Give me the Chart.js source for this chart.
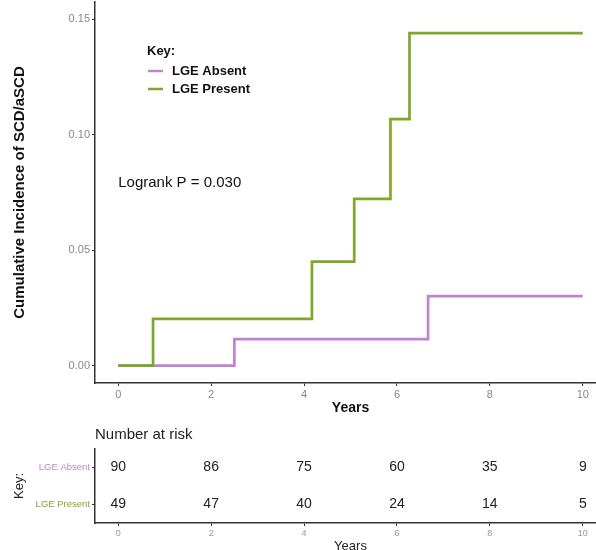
<!DOCTYPE html>
<html>
<head>
<meta charset="utf-8">
<script src="https://cdn.jsdelivr.net/npm/chart.js@4.4.0/dist/chart.umd.min.js"></script>
<style>
    html, body { margin: 0; padding: 0; background: #fff; overflow: hidden; }
    body { width: 596px; height: 550px; position: relative; }
    #mainBox { position: absolute; left: 0; top: 0; width: 610px; height: 420px; }
    #riskBox { position: absolute; left: 0; top: 420px; width: 610px; height: 140px; }
</style>
</head>
<body>
<div id="mainBox"><canvas id="mainChart"></canvas></div>
<div id="riskBox"><canvas id="riskChart"></canvas></div>
<script>
// step points (time in years, cumulative incidence)
const absentTimes = [0, 2.50, 6.67, 10]
const absentValues = [0, 0.0115, 0.0301, 0.0301]
const presentTimes = [0, 0.75, 4.17, 5.08, 5.86, 6.27, 10]
const presentValues = [0, 0.0203, 0.0451, 0.0722, 0.1068, 0.1440, 0.1440]

const groups = ['LGE Absent', 'LGE Present']
const groupColors = ['#c084cf', '#7ea82a']

const xTicks = [0, 2, 4, 6, 8, 10]
const yTicks = [0, 0.05, 0.10, 0.15]

// number at risk
const riskYears = [0, 2, 4, 6, 8, 10]
const riskAbsent = [90, 86, 75, 60, 35, 9]
const riskPresent = [49, 47, 40, 24, 14, 5]

const FONT = "'Liberation Sans', Arial, Helvetica, sans-serif"

function toPoints(xs, ys) {
    return xs.map((x, i) => ({ x: x, y: ys[i] }))
}

// legend and logrank text inside the plot
const keyPlugin = {
    id: 'keyPlugin',
    afterDraw(chart) {
        const ctx = chart.ctx
        const a = chart.chartArea
        ctx.save()
        ctx.textBaseline = 'middle'
        ctx.fillStyle = '#111'
        ctx.font = 'bold 13px ' + FONT
        ctx.fillText('Key:', a.left + 52, 51)
        chart.data.datasets.slice().sort((p, q) => groups.indexOf(p.label) - groups.indexOf(q.label)).forEach((ds, i) => {
            const y = 71 + i * 18
            ctx.strokeStyle = ds.borderColor
            ctx.lineWidth = 2.5
            ctx.beginPath()
            ctx.moveTo(a.left + 53, y)
            ctx.lineTo(a.left + 68, y)
            ctx.stroke()
            ctx.fillStyle = '#111'
            ctx.fillText(ds.label, a.left + 77, y)
        })
        ctx.font = '15px ' + FONT
        ctx.fillText('Logrank P = 0.030', chart.scales.x.getPixelForValue(0), 183)
        ctx.restore()
    }
}

const mainCtx = document.getElementById('mainChart').getContext('2d')
const mainChart = new Chart(mainCtx, {
    type: 'line',
    data: {
        datasets: [{
            label: groups[0],
            data: toPoints(absentTimes, absentValues),
            borderColor: groupColors[0],
            borderWidth: 2.7,
            stepped: true,
            pointRadius: 0,
            fill: false,
            order: 2
        }, {
            label: groups[1],
            data: toPoints(presentTimes, presentValues),
            borderColor: groupColors[1],
            borderWidth: 2.7,
            stepped: true,
            pointRadius: 0,
            fill: false,
            order: 1
        }]
    },
    options: {
        responsive: true,
        maintainAspectRatio: false,
        animation: false,
        layout: { padding: { top: 2, right: 4, left: 0, bottom: 0 } },
        scales: {
            x: {
                type: 'linear',
                min: -0.5,
                max: 10.5,
                afterBuildTicks: s => { s.ticks = xTicks.map(v => ({ value: v })) },
                afterFit: s => { s.height = 37 },
                grid: { drawOnChartArea: false, drawTicks: true, tickLength: 3, color: '#333' },
                border: { display: true, color: '#333', width: 1.5 },
                ticks: { color: '#888', font: { family: FONT, size: 11 }, padding: 2 },
                title: {
                    display: true,
                    text: 'Years',
                    color: '#111',
                    font: { family: FONT, size: 14, weight: 'bold' },
                    padding: { top: 0, bottom: 3 }
                }
            },
            y: {
                type: 'linear',
                min: -0.0075,
                max: 0.1575,
                afterBuildTicks: s => { s.ticks = yTicks.map(v => ({ value: v })) },
                afterFit: s => { s.width = 95; s.paddingTop = 0; s.paddingBottom = 0 },
                grid: { drawOnChartArea: false, drawTicks: true, tickLength: 3, color: '#333' },
                border: { display: true, color: '#333', width: 1.5 },
                ticks: {
                    color: '#888',
                    font: { family: FONT, size: 11 },
                    padding: 2,
                    callback: v => v.toFixed(2)
                },
                title: {
                    display: true,
                    text: 'Cumulative Incidence of SCD/aSCD',
                    color: '#111',
                    font: { family: FONT, size: 15, weight: 'bold' },
                    padding: { top: 11, bottom: 0 }
                }
            }
        },
        plugins: {
            legend: { display: false },
            tooltip: { enabled: false }
        }
    },
    plugins: [keyPlugin]
})

// numbers at risk drawn at each point of the table chart
const riskLabels = {
    id: 'riskLabels',
    afterDatasetsDraw(chart) {
        const ctx = chart.ctx
        ctx.save()
        ctx.font = '14px ' + FONT
        ctx.fillStyle = '#222'
        ctx.textAlign = 'center'
        ctx.textBaseline = 'middle'
        chart.data.datasets.forEach((ds, di) => {
            chart.getDatasetMeta(di).data.forEach((pt, i) => {
                ctx.fillText(String(ds.data[i].n), pt.x, pt.y)
            })
        })
        const a = chart.chartArea
        ctx.textAlign = 'left'
        ctx.font = '15px ' + FONT
        ctx.fillText('Number at risk', a.left, 15)
        ctx.restore()
    }
}

const riskCtx = document.getElementById('riskChart').getContext('2d')
const riskChart = new Chart(riskCtx, {
    type: 'scatter',
    data: {
        labels: groups,
        datasets: [{
            label: groups[0],
            data: riskYears.map((yr, i) => ({ x: yr, y: groups[0], n: riskAbsent[i] })),
            pointRadius: 0
        }, {
            label: groups[1],
            data: riskYears.map((yr, i) => ({ x: yr, y: groups[1], n: riskPresent[i] })),
            pointRadius: 0
        }]
    },
    options: {
        responsive: true,
        maintainAspectRatio: false,
        animation: false,
        layout: { padding: { top: 29, right: 4, left: 0, bottom: 0 } },
        scales: {
            x: {
                type: 'linear',
                min: -0.5,
                max: 10.5,
                afterBuildTicks: s => { s.ticks = xTicks.map(v => ({ value: v })) },
                afterFit: s => { s.height = 37 },
                grid: { drawOnChartArea: false, drawTicks: true, tickLength: 3, color: '#333' },
                border: { display: true, color: '#333', width: 1.5 },
                ticks: { color: '#999', font: { family: FONT, size: 9 }, padding: 2 },
                title: {
                    display: true,
                    text: 'Years',
                    color: '#222',
                    font: { family: FONT, size: 13 },
                    padding: { top: 0, bottom: 6 }
                }
            },
            y: {
                type: 'category',
                labels: groups,
                offset: true,
                afterFit: s => { s.width = 95; s.paddingTop = 0; s.paddingBottom = 0 },
                grid: { drawOnChartArea: false, drawTicks: true, tickLength: 3, color: '#333', offset: false },
                border: { display: true, color: '#333', width: 1.5 },
                ticks: {
                    color: c => groupColors[c.index],
                    font: { family: FONT, size: 9.5 },
                    padding: 2
                },
                title: {
                    display: true,
                    text: 'Key:',
                    color: '#222',
                    font: { family: FONT, size: 13 },
                    padding: { top: 12, bottom: 0 }
                }
            }
        },
        plugins: {
            legend: { display: false },
            tooltip: { enabled: false }
        }
    },
    plugins: [riskLabels]
})
</script>
</body>
</html>
